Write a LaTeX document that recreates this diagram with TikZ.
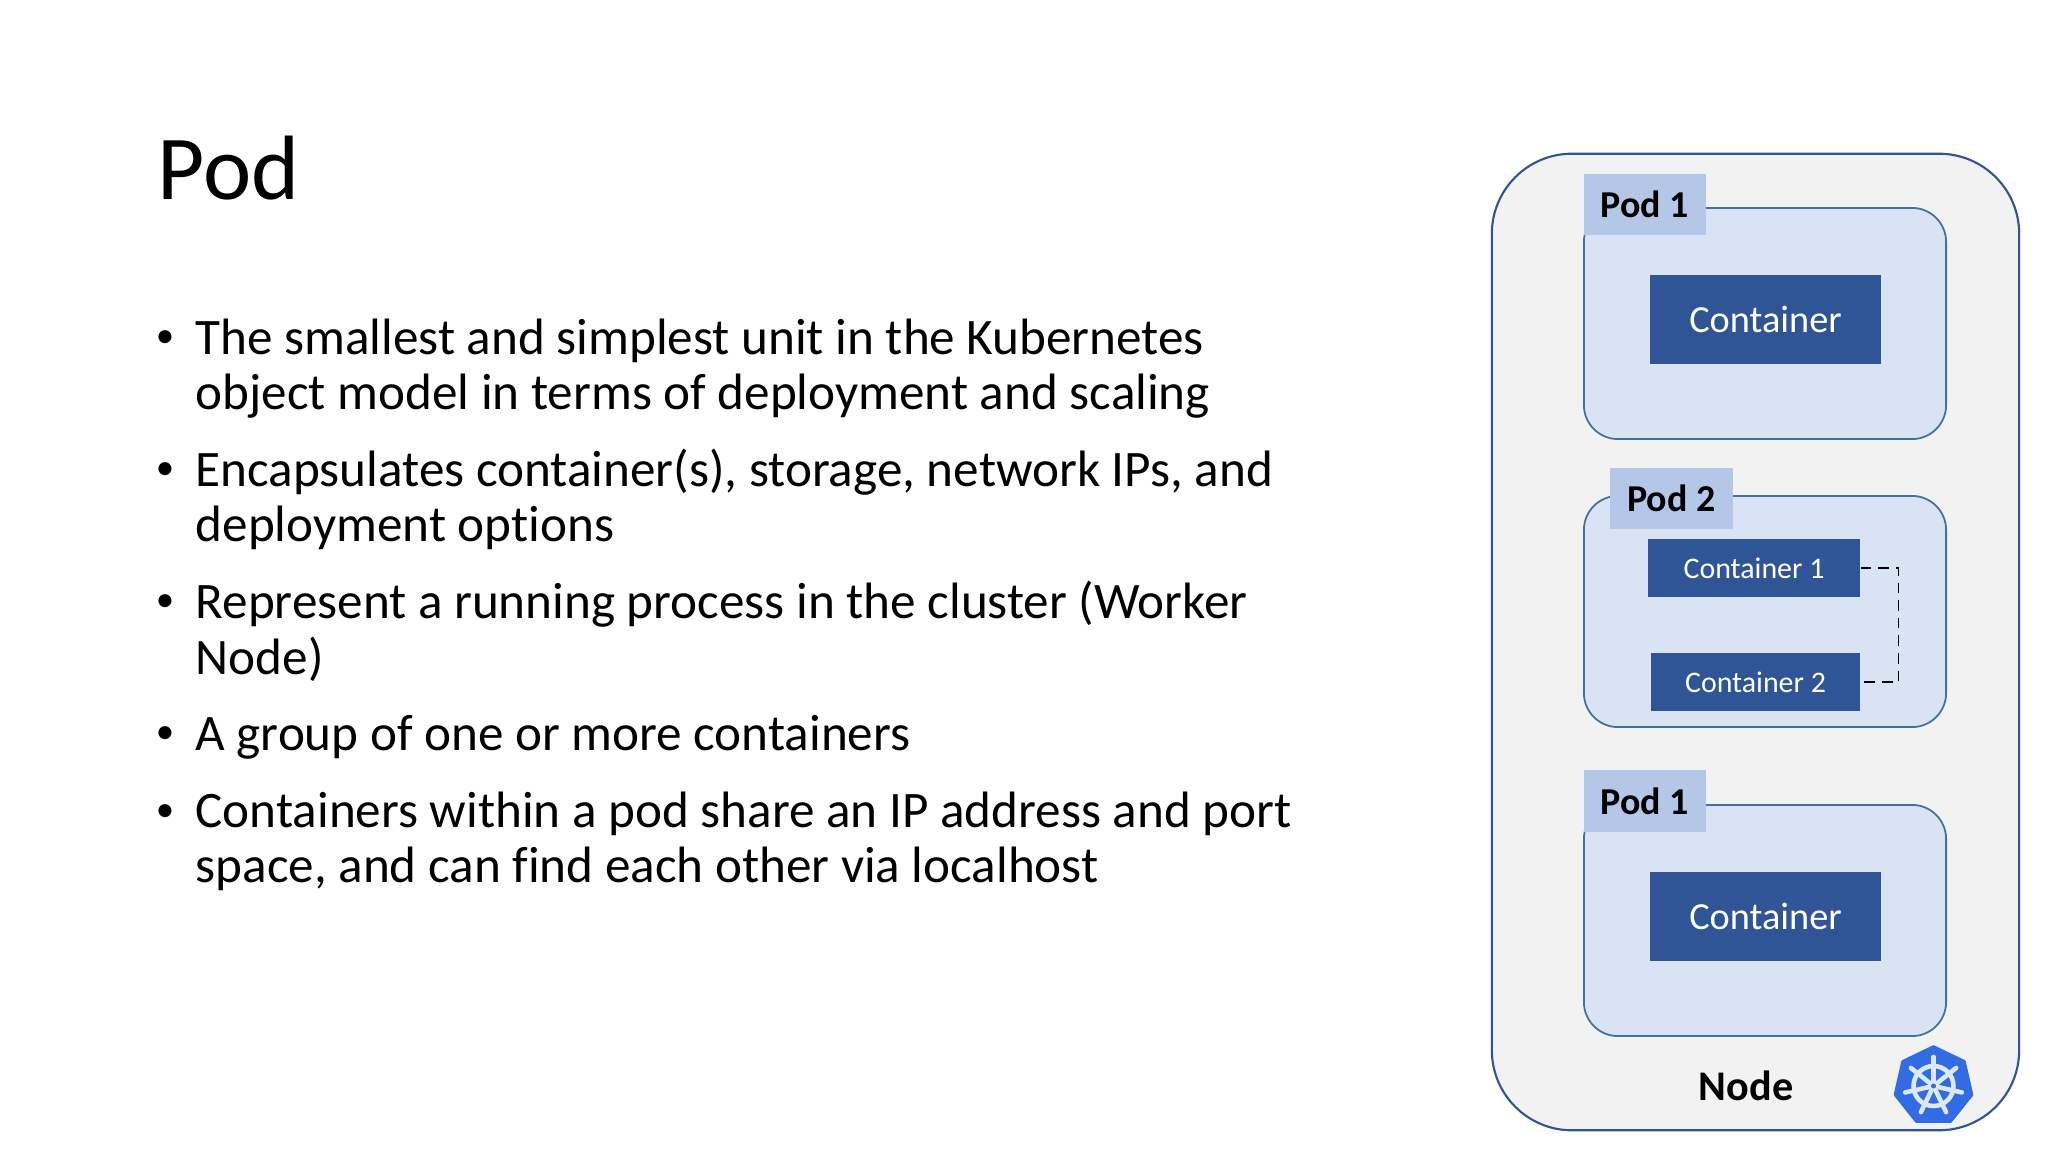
\documentclass[tikz,border=0pt]{standalone}
\usepackage{fontspec}
\setmainfont[Ligatures=NoCommon]{Carlito}
\usetikzlibrary{shapes.geometric}
\definecolor{nodefill}{HTML}{F2F2F2}
\definecolor{darkblue}{HTML}{2F5597}
\definecolor{podfill}{HTML}{DAE3F3}
\definecolor{podline}{HTML}{41719C}
\definecolor{tagfill}{HTML}{B4C7E7}
\definecolor{k8sblue}{HTML}{326CE5}
\definecolor{helm}{HTML}{DCE8F5}
\tikzset{
    nodebox/.style={draw=darkblue, line width=0.6pt, fill=nodefill, rounded corners=0.8cm, minimum width=5.27cm, minimum height=9.76cm},
    podbox/.style={draw=podline, line width=0.5pt, fill=podfill, rounded corners=0.34cm, minimum width=3.62cm, minimum height=2.31cm},
    podtag/.style={fill=tagfill, minimum width=1.22cm, minimum height=0.61cm, inner sep=0pt, font=\fontsize{10.8}{12}\selectfont\bfseries},
    bigcont/.style={fill=darkblue, text=white, minimum width=2.31cm, minimum height=0.88cm, inner sep=0pt, font=\fontsize{10.9}{13}\selectfont},
    smallcont/.style={fill=darkblue, text=white, minimum height=0.575cm, inner sep=0pt, font=\fontsize{8.5}{10}\selectfont},
    bodyline/.style={anchor=base west, inner sep=0pt, font=\fontsize{14.55}{17}\selectfont},
    bulletmark/.style={anchor=base, inner sep=0pt, font=\fontsize{10.5}{12}\selectfont},
    spoke/.style={draw=helm, line width=1.3pt, line cap=round}
}
\begin{document}
\begin{tikzpicture}[x=0.01cm, y=-0.01cm]
    \useasboundingbox[fill=white] (0,0) rectangle (2048,1152);

    % Title and bullets
    \node[anchor=base west, inner sep=0pt, font=\fontsize{26}{30}\selectfont] (title) at (157,200) {Pod};
    \foreach \n/\y in {1/348,2/480,3/612,4/743,5/821}
        \node[bulletmark] (bullet\n) at (165,\y) {•};
    \foreach \n/\y/\t in {1/355/{The smallest and simplest unit in the Kubernetes},
        2/410/{object model in terms of deployment and scaling},
        3/487/{Encapsulates container(s), storage, network IPs, and},
        4/542/{deployment options},
        5/619/{Represent a running process in the cluster (Worker},
        6/674/{Node)},
        7/750/{A group of one or more containers},
        8/827/{Containers within a pod share an IP address and port},
        9/882/{space, and can find each other via localhost}}
        \node[bodyline] (line\n) at (195,\y) {\t};

    % Node
    \node[nodebox] (worker) at (1755.5,642) {};
    \node[font=\fontsize{12}{14}\selectfont\bfseries, anchor=base] (workerlabel) at (1746,1100) {Node};

    % Pods
    \node[podbox] (pod1) at (1765,323.5) {};
    \node[podtag] (tag1) at (1645,204.5) {Pod 1};
    \node[bigcont] (cont1) at (1765.5,319.5) {Container};

    \node[podbox] (pod2) at (1765,611.5) {};
    \node[podtag] (tag2) at (1671.5,498.5) {Pod 2};
    \node[smallcont, minimum width=2.12cm] (cont2a) at (1754,568) {Container 1};
    \node[smallcont, minimum width=2.09cm] (cont2b) at (1755.5,682) {Container 2};
    \draw[densely dashed, line width=0.4pt] (cont2a.east) -- ++(38,0) |- (cont2b.east);

    \node[podbox] (pod3) at (1765,920.5) {};
    \node[podtag] (tag3) at (1645,801) {Pod 1};
    \node[bigcont] (cont3) at (1765.5,916.5) {Container};

    % Kubernetes logo
    \node[regular polygon, regular polygon sides=7, fill=k8sblue, draw=k8sblue, line join=round, line width=1pt, minimum size=0.78cm, inner sep=0pt] (logo) at (1933.5,1086) {};
    \draw[spoke] (logo.center) circle (20);
    \foreach \i in {0,...,6}
        \draw[spoke] (logo.center) -- ++({-90+\i*51.43}:29);
    \fill[helm] (logo.center) circle (5);
    \fill[k8sblue] (logo.center) circle (2.5);
\end{tikzpicture}
\end{document}
